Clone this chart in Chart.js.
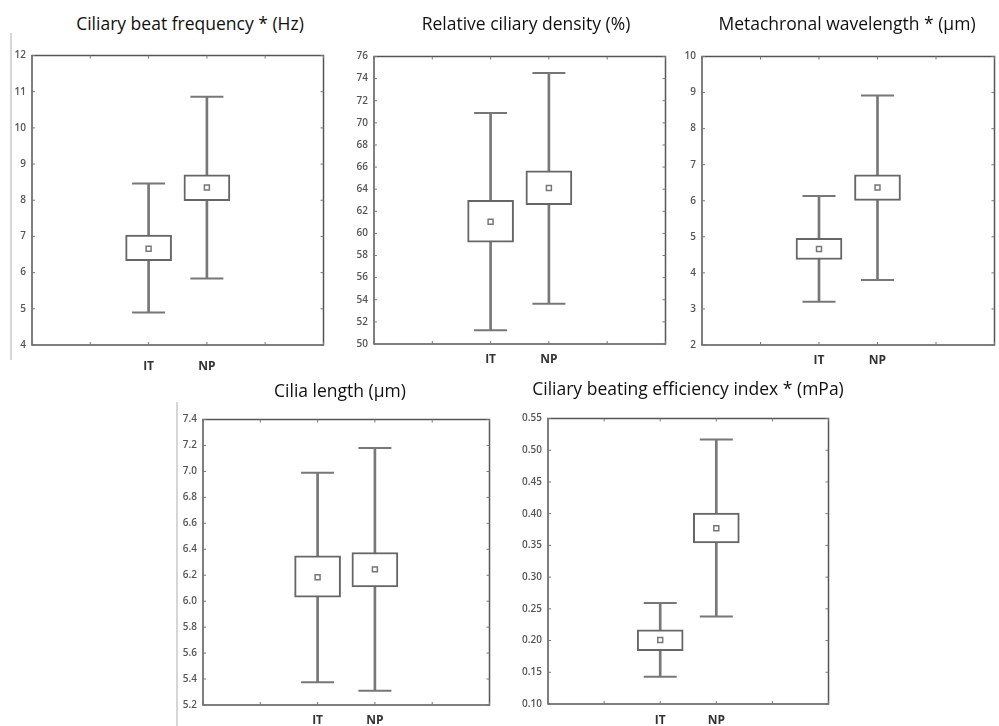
<!DOCTYPE html>
<html lang="en">
<head>
<meta charset="UTF-8">
<title>Ciliary parameters, IT vs NP</title>
<script src="https://cdn.jsdelivr.net/npm/chart.js"></script>
<style>
  body { margin: 0; background: #fff; overflow: hidden; }
  #page { position: relative; width: 999px; height: 726px; overflow: hidden; }
  .panel { position: absolute; }
  .title { position: absolute; font-family: "Open Sans", sans-serif; font-size: 17.5px; color: #111;
           white-space: nowrap; transform: translate(-50%, -50%); }
  .edge { position: absolute; width: 2px; background: #d6d6d6; }
</style>
</head>
<body>
<div id="page">
  <div class="edge" style="left:10px;top:33px;height:327px"></div>
  <div class="edge" style="left:176px;top:402px;height:324px"></div>
</div>
<script>
const groups = ['IT', 'NP'];

// Ciliary beat frequency * (Hz)
const beatFreqMean = [6.66, 8.35];
const beatFreqBox = [[6.33, 7.04], [7.99, 8.70]];
const beatFreqWhisker = [[4.90, 8.46], [5.84, 10.86]];
const beatFreqTicks = [4, 5, 6, 7, 8, 9, 10, 11, 12];

// Relative ciliary density (%)
const densityMean = [61.05, 64.1];
const densityBox = [[59.2, 63.0], [62.6, 65.65]];
const densityWhisker = [[51.25, 70.9], [53.65, 74.5]];
const densityTicks = [50, 52, 54, 56, 58, 60, 62, 64, 66, 68, 70, 72, 74, 76];

// Metachronal wavelength * (µm)
const waveMean = [4.66, 6.37];
const waveBox = [[4.37, 4.96], [6.01, 6.72]];
const waveWhisker = [[3.20, 6.13], [3.80, 8.92]];
const waveTicks = [2, 3, 4, 5, 6, 7, 8, 9, 10];

// Cilia length (µm)
const lengthMean = [6.185, 6.245];
const lengthBox = [[6.03, 6.35], [6.11, 6.375]];
const lengthWhisker = [[5.375, 6.99], [5.31, 7.18]];
const lengthTicks = [5.2, 5.4, 5.6, 5.8, 6.0, 6.2, 6.4, 6.6, 6.8, 7.0, 7.2, 7.4];

// Ciliary beating efficiency index * (mPa)
const effMean = [0.201, 0.377];
const effBox = [[0.184, 0.217], [0.354, 0.401]];
const effWhisker = [[0.143, 0.259], [0.238, 0.517]];
const effTicks = [0.10, 0.15, 0.20, 0.25, 0.30, 0.35, 0.40, 0.45, 0.50, 0.55];

const panels = [
  { title: 'Ciliary beat frequency * (Hz)', mean: beatFreqMean, box: beatFreqBox, whisker: beatFreqWhisker,
    ticks: beatFreqTicks, dec: 0, area: [32, 45, 334, 345], labelGap: 14, titleAt: [190, 23] },
  { title: 'Relative ciliary density (%)', mean: densityMean, box: densityBox, whisker: densityWhisker,
    ticks: densityTicks, dec: 0, area: [374, 46, 676, 344], labelGap: 8, titleAt: [526, 23] },
  { title: 'Metachronal wavelength * (µm)', mean: waveMean, box: waveBox, whisker: waveWhisker,
    ticks: waveTicks, dec: 0, area: [702, 46, 1005, 345], labelGap: 8, titleAt: [847, 23] },
  { title: 'Cilia length (µm)', mean: lengthMean, box: lengthBox, whisker: lengthWhisker,
    ticks: lengthTicks, dec: 1, area: [203, 409, 500, 705], labelGap: 8, titleAt: [340, 390] },
  { title: 'Ciliary beating efficiency index * (mPa)', mean: effMean, box: effBox, whisker: effWhisker,
    ticks: effTicks, dec: 2, area: [548, 408, 839, 704], labelGap: 9, titleAt: [688, 388] }
];

// frame round the plot area, with short inner tick marks on all four sides
const framePlugin = {
  id: 'frame',
  beforeDatasetsDraw(chart) {
    const { ctx, chartArea: a, scales: { x, y } } = chart;
    ctx.save();
    ctx.strokeStyle = '#555';
    ctx.lineWidth = 1.5;
    ctx.strokeRect(a.left, a.top, a.right - a.left, a.bottom - a.top);
    ctx.lineWidth = 1;
    ctx.strokeStyle = '#777';
    ctx.beginPath();
    y.ticks.forEach(t => {
      const py = y.getPixelForValue(t.value);
      ctx.moveTo(a.left, py); ctx.lineTo(a.left + 3, py);
      ctx.moveTo(a.right, py); ctx.lineTo(a.right - 3, py);
    });
    x.ticks.forEach((t, i) => {
      const px = x.getPixelForTick(i);
      ctx.moveTo(px, a.top); ctx.lineTo(px, a.top + 3);
      ctx.moveTo(px, a.bottom); ctx.lineTo(px, a.bottom - 3);
    });
    ctx.stroke();
    ctx.restore();
  }
};

const padL = 40, padT = 8, padR = 8, padB = 30;
const page = document.getElementById('page');

panels.forEach(p => {
  const [left, top, right, bottom] = p.area;
  const w = right - left + padL + padR;
  const h = bottom - top + padT + padB;

  const div = document.createElement('div');
  div.className = 'panel';
  div.style.left = (left - padL) + 'px';
  div.style.top = (top - padT) + 'px';
  const canvas = document.createElement('canvas');
  canvas.width = w;
  canvas.height = h;
  div.appendChild(canvas);
  page.appendChild(div);

  const t = document.createElement('div');
  t.className = 'title';
  t.textContent = p.title;
  t.style.left = p.titleAt[0] + 'px';
  t.style.top = p.titleAt[1] + 'px';
  page.appendChild(t);

  // two empty slots each side so the groups sit at 2/5 and 3/5 of the width
  const labels = ['', '', ...groups, '', ''];
  const pad = v => [null, null, ...v, null, null];

  new Chart(canvas.getContext('2d'), {
    type: 'bar',
    data: {
      labels: labels,
      datasets: [
        { type: 'bar', data: pad(p.whisker), barThickness: 2, backgroundColor: '#777',
          borderWidth: 0, grouped: false, order: 3 },
        { type: 'bar', data: pad(p.box), barThickness: 46, backgroundColor: '#fff',
          borderColor: '#666', borderWidth: 2, borderSkipped: false, grouped: false, order: 2 },
        { type: 'line', data: pad(p.whisker.map(v => v[1])), showLine: false, pointStyle: 'line',
          pointRadius: 16.5, pointBorderWidth: 2, pointBorderColor: '#777', order: 1 },
        { type: 'line', data: pad(p.whisker.map(v => v[0])), showLine: false, pointStyle: 'line',
          pointRadius: 16.5, pointBorderWidth: 2, pointBorderColor: '#777', order: 1 },
        { type: 'line', data: pad(p.mean), showLine: false, pointStyle: 'rect', pointRadius: 3.5,
          pointBorderWidth: 1.5, pointBorderColor: '#777', pointBackgroundColor: '#fff', order: 0 }
      ]
    },
    options: {
      responsive: false,
      animation: false,
      events: [],
      layout: { padding: { top: padT, right: padR, left: 0, bottom: 0 } },
      plugins: { legend: { display: false }, tooltip: { enabled: false } },
      scales: {
        x: {
          type: 'category',
          offset: false,
          grid: { display: false, drawTicks: false },
          border: { display: false },
          ticks: { autoSkip: false, maxRotation: 0, padding: p.labelGap, color: '#333',
                   font: { family: 'Open Sans', size: 12, weight: 'bold' } },
          afterFit: s => { s.height = padB; }
        },
        y: {
          min: p.ticks[0],
          max: p.ticks[p.ticks.length - 1],
          grid: { display: false, drawTicks: false },
          border: { display: false },
          afterBuildTicks: s => { s.ticks = p.ticks.map(v => ({ value: v })); },
          ticks: { padding: 6, color: '#555', font: { family: 'Open Sans', size: 10, weight: '600' },
                   callback: v => Number(v).toFixed(p.dec) },
          afterFit: s => { s.width = padL; }
        }
      }
    },
    plugins: [framePlugin]
  });
});
</script>
</body>
</html>
